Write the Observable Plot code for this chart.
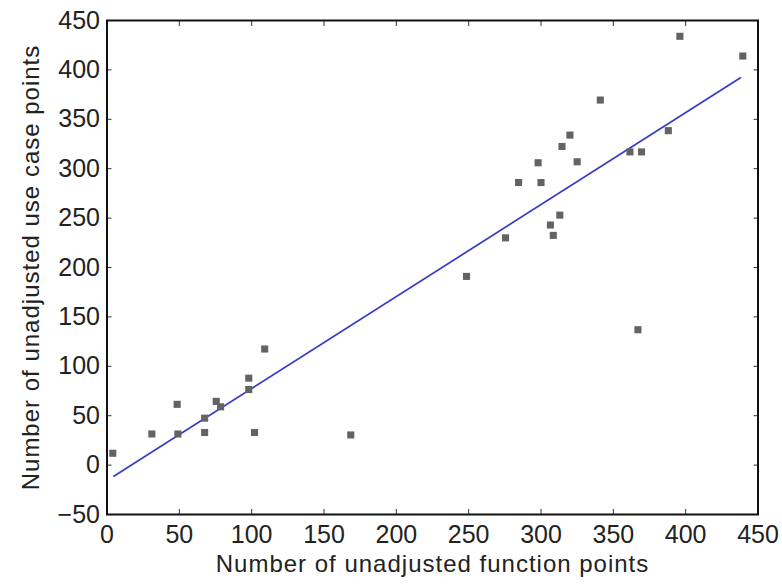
<!DOCTYPE html>
<html>
<head>
<meta charset="utf-8">
<script src="https://cdn.jsdelivr.net/npm/d3@7"></script>
<script src="https://cdn.jsdelivr.net/npm/@observablehq/plot@0.6"></script>
<style>
  html, body { margin: 0; padding: 0; background: #fff; }
  #chart svg { display: block; }
</style>
</head>
<body>
<div id="chart"></div>
<script>
// Unadjusted function points (x) vs unadjusted use case points (y)
const fpX  = [4, 31, 48.5, 49, 67.5, 67.5, 75.5, 78.5, 98, 98, 102, 109, 168.5,
              248.5, 367, 275.5, 284.5, 300, 298, 306.5, 308.5, 313, 314.5, 320,
              325, 341, 361.5, 369.5, 388, 396, 439.5];
const ucpY = [12, 31.5, 61.5, 31.5, 33, 47.5, 64.5, 59, 88, 76.5, 33, 117.5, 30.5,
              191, 137, 230, 286, 286, 306, 243, 232.5, 253, 322.5, 334,
              307, 369.5, 317, 317, 338.5, 434, 414];

// Fitted regression line endpoints
const fitX = [4.7, 437.9];
const fitY = [-11.2, 392];

const xTicks = [0, 50, 100, 150, 200, 250, 300, 350, 400, 450];
const yTicks = [-50, 0, 50, 100, 150, 200, 250, 300, 350, 400, 450];
const xLabel = "Number of unadjusted function points";
const yLabel = "Number of unadjusted use case points";

const points = fpX.map((x, i) => ({x, y: ucpY[i]}));
const fit = fitX.map((x, i) => ({x, y: fitY[i]}));

const tickFmt = d => d < 0 ? "\u2212" + Math.abs(d) : String(d);

const chart = Plot.plot({
  width: 782,
  height: 587,
  marginLeft: 106.5,
  marginRight: 24.5,
  marginTop: 20,
  marginBottom: 73,
  x: {domain: [0, 450]},
  y: {domain: [-50, 450]},
  style: {
    fontFamily: "'Liberation Sans', Arial, Helvetica, sans-serif",
    fontSize: "25px",
    color: "#222",
    background: "#fff"
  },
  marks: [
    Plot.line(fit, {x: "x", y: "y", stroke: "#3a3ac8", strokeWidth: 1.7}),
    Plot.dot(points, {x: "x", y: "y", symbol: "square", r: 4, fill: "#636363", stroke: "none"}),
    // inward ticks on all four sides
    Plot.axisX(xTicks, {anchor: "bottom", tickSize: -5, fill: "none", stroke: "#333"}),
    Plot.axisX(xTicks, {anchor: "top", tickSize: -5, fill: "none", stroke: "#333"}),
    Plot.axisY(yTicks, {anchor: "left", tickSize: -5, fill: "none", stroke: "#333"}),
    Plot.axisY(yTicks, {anchor: "right", tickSize: -5, fill: "none", stroke: "#333"}),
    // tick labels
    Plot.axisX(xTicks, {anchor: "bottom", tickSize: 0, tickPadding: 11, label: null, tickFormat: tickFmt, fontSize: 25}),
    Plot.axisY(yTicks, {anchor: "left", tickSize: 0, tickPadding: 7, label: null, tickFormat: tickFmt, fontSize: 25}),
    // axis titles
    Plot.text([xLabel], {frameAnchor: "bottom", dy: 57, text: d => d, fontSize: 24, lineAnchor: "bottom", textAnchor: "middle", fill: "#222"}),
    Plot.text([yLabel], {frameAnchor: "left", dx: -76, rotate: -90, text: d => d, fontSize: 24, lineAnchor: "middle", textAnchor: "middle", fill: "#222"}),
    Plot.frame({stroke: "#111", strokeWidth: 2})
  ]
});

// slightly wider letter spacing for the axis titles, as in the original
d3.select(chart).selectAll("text")
  .filter(function () { return this.textContent === xLabel || this.textContent === yLabel; })
  .style("letter-spacing", "1px");

document.getElementById("chart").appendChild(chart);
</script>
</body>
</html>
